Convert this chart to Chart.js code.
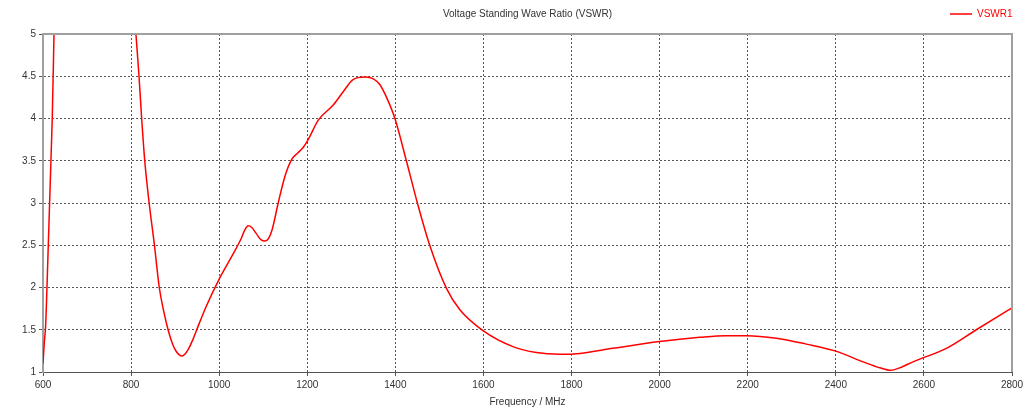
<!DOCTYPE html>
<html>
<head>
<meta charset="utf-8">
<script src="https://cdn.jsdelivr.net/npm/chart.js@4.4.1/dist/chart.umd.min.js"></script>
<style>
  html, body { margin: 0; padding: 0; background: #fff; }
  #wrap { width: 1031px; height: 410px; position: relative; }
</style>
</head>
<body>
<div id="wrap"><canvas id="vswrChart" width="1031" height="410"></canvas></div>
<script>
// values
const freqMHz = [600, 603, 606, 609, 612, 615, 618, 621, 625, 630, 700, 800, 811, 818, 824, 831, 841, 853, 864, 874,
    884, 895, 903, 910, 916, 922, 930, 940, 949, 970, 1000, 1032, 1050, 1058, 1066, 1074, 1084, 1094, 1104, 1112,
    1120, 1134, 1149, 1164, 1180, 1191, 1202, 1225, 1259, 1282, 1304, 1331, 1350, 1365, 1380, 1399, 1425, 1450, 1478, 1516,
    1546, 1599, 1667, 1720, 1773, 1819, 1894, 2000, 2091, 2150, 2197, 2265, 2333, 2398, 2462, 2500, 2525, 2550, 2575, 2651,
    2719, 2800];
const vswr1 = [1.10, 1.35, 1.55, 2.0, 2.5, 3.0, 3.5, 4.0, 5.0, 6.2, 9.0, 5.85, 5.0, 4.5, 4.0, 3.5, 3.0, 2.5, 2.0, 1.72,
    1.5, 1.32, 1.24, 1.20, 1.19, 1.21, 1.27, 1.38, 1.5, 1.77, 2.1, 2.4, 2.58, 2.68, 2.73, 2.71, 2.64, 2.57, 2.55, 2.58,
    2.68, 3.0, 3.31, 3.51, 3.6, 3.66, 3.75, 3.98, 4.16, 4.32, 4.46, 4.49, 4.47, 4.40, 4.25, 4.0, 3.5, 3.0, 2.5, 1.99,
    1.74, 1.49, 1.30, 1.23, 1.21, 1.22, 1.28, 1.36, 1.41, 1.43, 1.43, 1.40, 1.33, 1.25, 1.12, 1.05, 1.02, 1.06, 1.12, 1.28,
    1.50, 1.76];

const chartTitle = 'Voltage Standing Wave Ratio (VSWR)';
const seriesName = 'VSWR1';
const xAxisTitle = 'Frequency / MHz';

const FONT = '"Liberation Sans", Arial, sans-serif';

// title, legend and the top/right frame drawn by hand
const framePlugin = {
    id: 'frame',
    afterDraw(chart) {
        const ctx = chart.ctx;
        const a = chart.chartArea;
        ctx.save();
        ctx.setLineDash([]);
        ctx.strokeStyle = '#a0a0a0';
        ctx.lineWidth = 2;
        ctx.beginPath();
        ctx.moveTo(a.left, a.top);
        ctx.lineTo(a.right, a.top);
        ctx.lineTo(a.right, a.bottom);
        ctx.stroke();

        ctx.font = '10px ' + FONT;
        ctx.fillStyle = '#333';
        ctx.textAlign = 'center';
        ctx.textBaseline = 'middle';
        ctx.fillText(chartTitle, (a.left + a.right) / 2, 14);

        ctx.strokeStyle = 'rgb(255,0,0)';
        ctx.lineWidth = 1.5;
        ctx.beginPath();
        ctx.moveTo(950, 14);
        ctx.lineTo(972, 14);
        ctx.stroke();
        ctx.fillStyle = 'rgb(255,0,0)';
        ctx.textAlign = 'left';
        ctx.fillText(seriesName, 977, 14);
        ctx.restore();
    }
};

const points = freqMHz.map((f, i) => ({ x: f, y: vswr1[i] }));

new Chart(document.getElementById('vswrChart'), {
    type: 'line',
    data: {
        datasets: [{
            label: seriesName,
            data: points,
            borderColor: 'rgb(255,0,0)',
            borderWidth: 1.5,
            pointRadius: 0,
            cubicInterpolationMode: 'monotone',
            fill: false
        }]
    },
    options: {
        responsive: false,
        animation: false,
        layout: { padding: { top: 34, right: 19, left: 0, bottom: 0 } },
        plugins: {
            legend: { display: false },
            title: { display: false },
            tooltip: { enabled: false }
        },
        scales: {
            x: {
                type: 'linear',
                min: 600,
                max: 2800,
                afterFit: s => { s.height = 38; },
                ticks: {
                    stepSize: 200, color: '#333', font: { family: FONT, size: 10 }, padding: 3, maxRotation: 0,
                    callback: v => String(v)
                },
                grid: { color: '#555', tickColor: '#555', tickLength: 4, lineWidth: 1 },
                border: { display: true, color: '#555', width: 1, dash: [2, 2] },
                title: { display: true, text: xAxisTitle, color: '#333', font: { family: FONT, size: 10 }, padding: { top: 0, bottom: 2 } }
            },
            y: {
                min: 1,
                max: 5,
                afterFit: s => { s.width = 43; },
                ticks: {
                    stepSize: 0.5, color: '#333', font: { family: FONT, size: 10 }, padding: 3,
                    callback: v => String(v)
                },
                grid: { color: '#555', tickColor: '#555', tickLength: 4, lineWidth: 1 },
                border: { display: true, color: '#a0a0a0', width: 2, dash: [2, 2] }
            }
        }
    },
    plugins: [framePlugin]
});
</script>
</body>
</html>
